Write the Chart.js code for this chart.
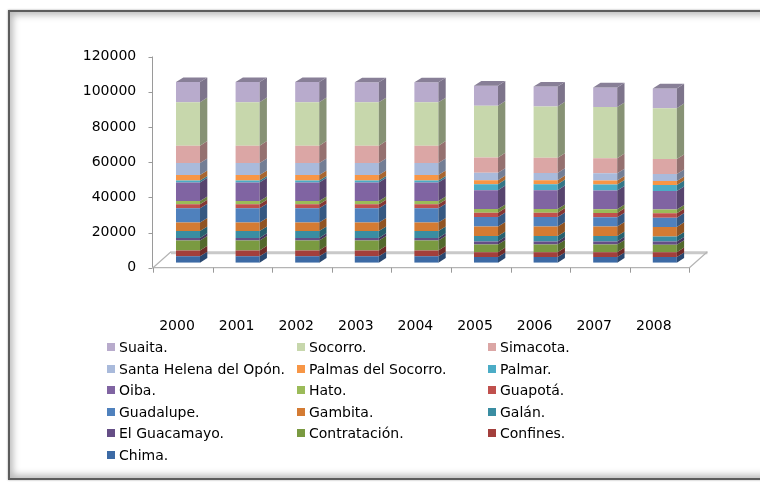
<!DOCTYPE html>
<html><head><meta charset="utf-8">
<script src="https://cdn.jsdelivr.net/npm/chart.js@4.4.0/dist/chart.umd.min.js"></script>
<style>
html,body{margin:0;padding:0;background:#fff;width:760px;height:487px;overflow:hidden;}
#frame{position:absolute;left:8px;top:10px;width:780px;height:466px;border:2px solid #5c5c5c;box-shadow:inset 0 0 7px 3px rgba(0,0,0,0.28),0 0 2px rgba(0,0,0,0.35);}
#wrap{position:absolute;left:0;top:0;width:760px;height:487px;}
#legend{position:absolute;left:0;top:0;width:760px;height:487px;font-family:"DejaVu Sans";font-size:14px;color:#000;}
.item{position:absolute;display:flex;align-items:center;white-space:nowrap;height:18px;}
.sw{width:8px;height:8px;margin-right:4px;flex:none;}
</style></head>
<body>
<div id="frame"></div>
<div id="wrap"><canvas id="c" width="760" height="487"></canvas></div>
<div id="legend"></div>
<script>
const years = ['2000','2001','2002','2003','2004','2005','2006','2007','2008'];
const yTicks = [0,20000,40000,60000,80000,100000,120000];

const chima        = [3600,3600,3600,3600,3600,3200,3200,3200,3200];
const confines     = [3400,3400,3400,3400,3400,2800,2800,2800,2800];
const contratacion = [5600,5600,5600,5600,5600,4300,4300,4300,4200];
const guacamayo    = [1500,1500,1500,1500,1500,1800,1800,1800,1800];
const galan        = [3900,3900,3900,3900,3900,3000,3000,3000,2900];
const gambita      = [4800,4800,4800,4800,4800,5400,5400,5400,5400];
const guadalupe    = [8100,8100,8100,8100,8100,5400,5400,5300,5300];
const guapota      = [2300,2300,2300,2300,2300,2500,2500,2500,2500];
const hato         = [1800,1800,1800,1800,1800,2100,2100,2100,2100];
const oiba         = [10600,10600,10600,10600,10600,10700,10700,10600,10500];
const palmar       = [1100,1100,1100,1100,1100,3400,3400,3400,3400];
const palmas       = [3100,3100,3100,3100,3100,2300,2300,2300,2300];
const santaHelena  = [6800,6800,6800,6800,6800,4200,4100,4100,4000];
const simacota     = [9900,9900,9900,9900,9900,8700,8600,8600,8500];
const socorro      = [24700,24700,24700,24600,24600,29400,29200,29000,28900];
const suaita       = [11400,11400,11400,11400,11400,11400,11300,11200,11200];

const seriesNames = ['Chima.','Confines.','Contratación.','El Guacamayo.','Galán.','Gambita.','Guadalupe.','Guapotá.','Hato.','Oiba.','Palmar.','Palmas del Socorro.','Santa Helena del Opón.','Simacota.','Socorro.','Suaita.'];
const seriesData = [chima,confines,contratacion,guacamayo,galan,gambita,guadalupe,guapota,hato,oiba,palmar,palmas,santaHelena,simacota,socorro,suaita];
const seriesColors = ['#3C6AA5','#A33F3C','#7A9A41','#654E86','#3A8DA2','#D47B33','#4F81BD','#C0504D','#9BBB59','#8064A2','#4BACC6','#F79646','#A9BADB','#DBA6A5','#C7D7AC','#B8ABCC'];

function shade(hex,f){
  const n=parseInt(hex.slice(1),16);
  const r=Math.round(((n>>16)&255)*f), g=Math.round(((n>>8)&255)*f), b=Math.round((n&255)*f);
  return 'rgb('+r+','+g+','+b+')';
}

const FONT = {family:'"DejaVu Sans"', size:14};
const DX = 7.3, DY = 4.6;          // bar depth
const OX = -5.2, OY = 5;           // front plane offset
const FDX = 18, FDY = 16;          // floor depth

const threeD = {
  id:'threeD',
  beforeDatasetsDraw(chart){
    const ctx=chart.ctx, xs=chart.scales.x, ys=chart.scales.y;
    const y0 = ys.getPixelForValue(0)+OY;
    const xl = xs.left+OX, xr = xs.right+OX;
    ctx.save();
    ctx.strokeStyle='#C9C9C9'; ctx.lineWidth=3;
    ctx.beginPath(); ctx.moveTo(xl+FDX,y0-FDY+1); ctx.lineTo(xr+FDX,y0-FDY+1); ctx.stroke();
    ctx.strokeStyle='#B4B4B4'; ctx.lineWidth=1.2;
    ctx.beginPath();
    ctx.moveTo(xl,y0); ctx.lineTo(xl+FDX,y0-FDY);
    ctx.moveTo(xr,y0); ctx.lineTo(xr+FDX,y0-FDY);
    ctx.moveTo(xl,y0); ctx.lineTo(xr,y0);
    ctx.stroke();
    ctx.strokeStyle='#9A9A9A'; ctx.lineWidth=1;
    ctx.beginPath();
    for(let i=0;i<=years.length;i++){
      const x=Math.round(xs.left+i*xs.width/years.length+OX)+0.5;
      ctx.moveTo(x,y0); ctx.lineTo(x,y0+5);
    }
    ctx.stroke();
    const ax=Math.round(xl)-0.5;
    ctx.beginPath();
    ctx.moveTo(ax,ys.getPixelForValue(yTicks[yTicks.length-1])+OY); ctx.lineTo(ax,y0);
    yTicks.forEach(v=>{const y=Math.round(ys.getPixelForValue(v)+OY)+0.5; ctx.moveTo(ax-4,y); ctx.lineTo(ax,y);});
    ctx.stroke();
    ctx.restore();
  },
  afterDatasetsDraw(chart){
    const ctx=chart.ctx; const n=chart.data.datasets.length;
    ctx.save();
    for(let d=0; d<n; d++){
      const meta=chart.getDatasetMeta(d);
      const col=chart.data.datasets[d].backgroundColor;
      meta.data.forEach(el=>{
        const p=el.getProps(['x','y','base','width'],true);
        const r=p.x+p.width/2;
        ctx.fillStyle=shade(col,0.68);
        ctx.beginPath();
        ctx.moveTo(r,p.y); ctx.lineTo(r+DX,p.y-DY); ctx.lineTo(r+DX,p.base-DY); ctx.lineTo(r,p.base);
        ctx.closePath(); ctx.fill();
        if(d===n-1){
          const l=p.x-p.width/2;
          ctx.fillStyle=shade(col,0.74);
          ctx.beginPath();
          ctx.moveTo(l,p.y); ctx.lineTo(l+DX,p.y-DY); ctx.lineTo(r+DX,p.y-DY); ctx.lineTo(r,p.y);
          ctx.closePath(); ctx.fill();
        }
      });
    }
    ctx.restore();
  }
};

const datasets = seriesNames.map((name,i)=>({
  label:name, data:seriesData[i], backgroundColor:seriesColors[i], borderWidth:0,
  barPercentage:0.403, categoryPercentage:1
}));

new Chart(document.getElementById('c'),{
  type:'bar',
  data:{labels:years, datasets},
  options:{
    responsive:false, animation:false, devicePixelRatio:1,
    layout:{padding:{top:51.5,right:65.4,left:0,bottom:0}},
    plugins:{legend:{display:false}, tooltip:{enabled:false}},
    scales:{
      x:{stacked:true, grid:{display:false,drawTicks:false}, border:{display:false},
         ticks:{font:FONT,color:'#000',padding:55,labelOffset:-11,maxRotation:0},
         afterFit(s){s.height=487-262.7;}},
      y:{stacked:true, min:0, max:120000, grid:{display:false,drawTicks:false}, border:{display:false},
         ticks:{font:FONT,color:'#000',padding:22,labelOffset:5,stepSize:20000,callback:(v)=>String(v)},
         afterFit(s){s.width=158.2;}}
    }
  },
  plugins:[threeD]
});

const legend=document.getElementById('legend');
const colX=[107,297,488], rowY=[347,368.6,390.2,411.8,433.4,455];
seriesNames.slice().reverse().forEach((name,k)=>{
  const idx=seriesNames.length-1-k;
  const it=document.createElement('div'); it.className='item';
  it.style.left=colX[k%3]+'px'; it.style.top=(rowY[Math.floor(k/3)]-9)+'px';
  const sw=document.createElement('span'); sw.className='sw'; sw.style.background=seriesColors[idx];
  const tx=document.createElement('span'); tx.textContent=name;
  it.appendChild(sw); it.appendChild(tx); legend.appendChild(it);
});
</script>
</body></html>
